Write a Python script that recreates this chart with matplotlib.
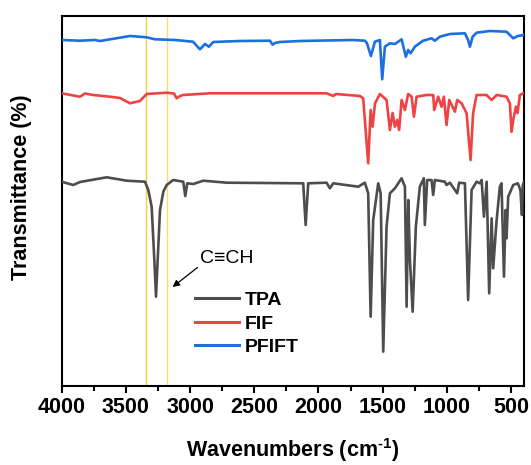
import numpy as np
from matplotlib import pyplot as plt
from matplotlib.ticker import MultipleLocator

my_dpi = 100
plt.rcParams['font.family'] = ['Liberation Sans', 'DejaVu Sans']
plt.rcParams['mathtext.fontset'] = 'custom'
plt.rcParams['mathtext.rm'] = 'Liberation Sans:bold'
plt.rcParams['mathtext.default'] = 'rm'

# spectra (wavenumber, offset transmittance)
pfift_wn = [4000, 3857, 3740, 3701, 3468, 3338, 3273, 3117, 2977, 2923, 2884, 2853, 2819,
            2612, 2378, 2357, 2339, 2300, 2144, 1732, 1639, 1623, 1592, 1561, 1522, 1504,
            1483, 1444, 1405, 1353, 1320, 1302, 1283, 1250, 1185, 1120, 1094, 1055, 977,
            860, 835, 821, 800, 769, 666, 536, 484, 448, 401]
pfift_t = [346, 345.3, 346, 345, 350, 348.7, 346.7, 346, 344.3, 336.7, 342, 339.3, 344,
           345, 345.3, 341.3, 343, 344, 345, 346, 345.3, 343, 330, 344.3, 346, 306.7,
           339.3, 342.7, 342, 346.7, 329.3, 336, 332.7, 339.3, 345.3, 347.7, 345.3, 349.3, 352,
           352.7, 346, 339.3, 349.3, 353.3, 355, 354.3, 347.7, 350, 351]

fif_wn = [4000, 3857, 3818, 3756, 3623, 3545, 3468, 3390, 3338, 3182, 3125, 3104, 3078,
          3055, 2845, 1937, 1885, 1864, 1678, 1652, 1613, 1594, 1579, 1560, 1522, 1470,
          1444, 1423, 1405, 1387, 1372, 1353, 1327, 1302, 1275, 1257, 1236, 1158, 1107,
          1099, 1068, 1042, 1024, 1003, 982, 938, 920, 886, 847, 816, 796, 769, 692, 652,
          613, 536, 510, 497, 484, 463, 450, 432, 401]
fif_t = [292.7, 289.3, 292.5, 291, 289.3, 288, 282.7, 285, 292, 293.3, 292.5, 287.7, 290,
         291, 292.7, 292.7, 290, 292, 290, 287.7, 222.7, 276, 259.3, 282.7, 292, 286,
         256, 273, 259.3, 266, 256, 286, 276, 292, 289.3, 269.3, 289.3, 291, 291,
         276, 289.3, 279.3, 289.3, 261, 286, 274.3, 286, 282.7, 272.7, 226, 273, 291, 291, 286,
         291, 289.3, 282.7, 254.3, 266, 279.3, 273, 291, 293]

tpa_wn = [4000, 3909, 3857, 3649, 3493, 3351, 3325, 3299, 3278, 3265, 3252, 3234, 3208,
          3182, 3131, 3053, 3037, 3022, 2975, 2897, 2715, 2119, 2100, 2080, 1937, 1911,
          1885, 1690, 1639, 1613, 1594, 1574, 1535, 1516, 1496, 1470, 1444, 1405, 1353,
          1327, 1314, 1301, 1288, 1267, 1242, 1211, 1180, 1172, 1154, 1120, 1107, 1094,
          1016, 1003, 977, 920, 905, 860, 835, 808, 769, 743, 730, 712, 691, 671, 652,
          640, 613, 588, 575, 556, 543, 536, 523, 484, 448, 428, 416, 409, 401]
tpa_t = [204.3, 201, 204, 208.7, 205.3, 204.3, 196, 179.3, 126, 89.3, 126, 176, 194.3,
         201, 206, 204.3, 190, 202.7, 202, 205.3, 203.3, 202.7, 161, 202.7, 203.3, 197.7,
         202.7, 199.3, 203.3, 192.7, 69.3, 166, 202.7, 192.7, 34.3, 159.3, 192.7, 197.7, 207.7,
         199.3, 79.3, 186, 126, 74.3, 159.3, 199.3, 207.7, 161, 206, 206, 191, 206,
         204.3, 201, 203.3, 192.7, 203.3, 202.7, 86, 196, 204.3, 202.7, 206, 169.3, 204.3, 92.7, 167.7,
         117.7, 166, 199.3, 202.7, 109.3, 176, 147.7, 189.3, 201, 202.7, 196, 171, 201, 204]

# marker lines
mark_wn = [3345, 3182]
mark_col = ['#f5cf3a', '#f8dd72']

fig = plt.figure(figsize=(531/my_dpi, 465/my_dpi), dpi=my_dpi)
ax = fig.add_axes([61.6/531, 1-386/465, (524-61.6)/531, 370/465])

for w, c in zip(mark_wn, mark_col):
  ax.axvline(w, color=c, linewidth=1.0, zorder=1)

ax.plot(tpa_wn, tpa_t, color='#4d4d4d', linewidth=1.9, label='TPA', zorder=3)
ax.plot(fif_wn, fif_t, color='#f04242', linewidth=1.9, label='FIF', zorder=3)
ax.plot(pfift_wn, pfift_t, color='#1c6fe0', linewidth=1.9, label='PFIFT', zorder=3)

ax.annotate('C\u2261CH', xy=(3136, 99), xytext=(2920, 119), fontsize=14,
            ha='left', va='bottom', family=['Liberation Sans', 'DejaVu Sans'],
            arrowprops=dict(arrowstyle='-|>', color='black', lw=0.9, mutation_scale=10,
                            shrinkA=0, shrinkB=0, relpos=(0, 0.1)))

ax.set_xlim(4000, 400)
ax.set_ylim(0, 370)
ax.xaxis.set_major_locator(MultipleLocator(500))
ax.xaxis.set_minor_locator(MultipleLocator(250))
ax.set_yticks([])
ax.tick_params(axis='x', which='major', direction='out', length=5, width=1.5, pad=3, labelsize=15.5)
ax.tick_params(axis='x', which='minor', direction='out', length=3.3, width=1.5)
for label in ax.get_xticklabels():
  label.set_fontweight('bold')
for s in ax.spines.values():
  s.set_linewidth(1.5)

ax.set_xlabel(r'Wavenumbers (cm$^{\text{-}1}$)', fontsize=15.5, fontweight='bold', labelpad=13)
ax.set_ylabel('Transmittance (%)', fontsize=15.5, fontweight='bold')
ax.yaxis.set_label_coords(-0.064, 0.536)

leg = ax.legend(loc='center left', bbox_to_anchor=(0.271, 0.168), frameon=False,
                prop={'size': 14, 'weight': 'bold'}, handlelength=2.3, handletextpad=0.3,
                labelspacing=0.3, borderaxespad=0)
for h in leg.get_lines():
  h.set_linewidth(2.2)

plt.savefig('out.png', dpi=my_dpi)
